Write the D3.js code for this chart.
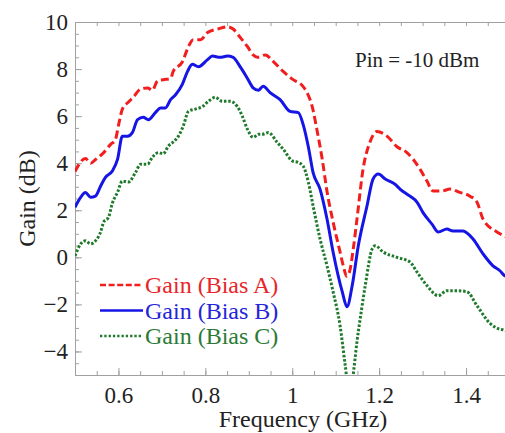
<!DOCTYPE html>
<html>
<head>
<meta charset="utf-8">
<script src="https://cdn.jsdelivr.net/npm/d3@7"></script>
<style>
  body { margin: 0; background: #fff; }
  svg { display: block; }
  .axis path, .axis line { stroke: #a0a0a0; }
  .axis text { font-family: "Liberation Serif", "Times New Roman", serif; font-size: 23px; fill: #222; }
</style>
</head>
<body>
<div id="chart"></div>
<script>
// gain curves (frequency in GHz, gain in dB)
var freqA = [0.50, 0.524, 0.536, 0.547, 0.566, 0.582, 0.593, 0.600, 0.609, 0.623, 0.634, 0.651, 0.667, 0.678, 0.690, 0.703, 0.720, 0.726, 0.747, 0.761, 0.772, 0.789, 0.805, 0.828, 0.851, 0.864, 0.880, 0.897, 0.910, 0.920, 0.938, 0.956, 0.979, 1.002, 1.023, 1.034, 1.046, 1.057, 1.069, 1.080, 1.094, 1.110, 1.118, 1.125, 1.132, 1.140, 1.149, 1.163, 1.179, 1.195, 1.218, 1.241, 1.264, 1.278, 1.294, 1.310, 1.324, 1.345, 1.363, 1.384, 1.409, 1.425, 1.439, 1.471, 1.489, 1.50];
var gainA = [3.65, 4.2, 4.0, 4.15, 4.45, 4.8, 5.0, 5.6, 6.3, 6.6, 6.8, 7.15, 7.2, 7.1, 7.5, 7.55, 7.6, 7.9, 8.3, 8.95, 9.25, 9.25, 9.55, 9.7, 9.8, 9.7, 9.35, 8.95, 8.6, 8.5, 8.6, 8.33, 7.9, 7.55, 7.3, 7.0, 6.4, 5.4, 4.17, 2.8, 1.5, 0.23, -0.4, -0.8, -0.6, 0.3, 1.63, 3.75, 4.9, 5.35, 5.15, 4.7, 4.45, 4.17, 3.75, 3.24, 2.82, 2.82, 2.9, 2.77, 2.6, 2.35, 1.63, 1.08, 0.9, 0.8];

var freqB = [0.50, 0.513, 0.524, 0.536, 0.547, 0.559, 0.570, 0.586, 0.598, 0.609, 0.621, 0.632, 0.644, 0.657, 0.669, 0.685, 0.697, 0.708, 0.720, 0.731, 0.747, 0.759, 0.770, 0.784, 0.805, 0.816, 0.834, 0.851, 0.864, 0.880, 0.897, 0.910, 0.922, 0.933, 0.949, 0.972, 0.995, 1.014, 1.025, 1.037, 1.048, 1.064, 1.080, 1.094, 1.115, 1.126, 1.138, 1.152, 1.172, 1.186, 1.198, 1.214, 1.237, 1.248, 1.271, 1.287, 1.301, 1.322, 1.336, 1.356, 1.370, 1.393, 1.416, 1.439, 1.462, 1.478, 1.489, 1.50];
var gainB = [2.13, 2.55, 2.75, 2.55, 2.6, 3.03, 3.4, 3.67, 4.17, 5.15, 5.15, 5.3, 5.85, 5.95, 5.85, 6.15, 6.35, 6.35, 6.7, 6.9, 7.35, 7.9, 8.2, 8.1, 8.4, 8.55, 8.5, 8.55, 8.5, 8.1, 7.6, 7.2, 7.1, 7.27, 7.0, 6.7, 6.2, 6.15, 5.65, 4.7, 3.6, 2.9, 1.63, 0.23, -1.46, -2.1, -1.2, 0.49, 2.18, 3.33, 3.54, 3.33, 3.1, 2.9, 2.6, 2.35, 1.9, 1.4, 1.08, 1.2, 1.12, 1.12, 0.78, 0.15, -0.36, -0.57, -0.78, -0.85];

var freqC = [0.50, 0.513, 0.524, 0.536, 0.547, 0.559, 0.566, 0.577, 0.586, 0.598, 0.609, 0.623, 0.639, 0.651, 0.667, 0.678, 0.692, 0.703, 0.715, 0.726, 0.738, 0.749, 0.761, 0.777, 0.793, 0.807, 0.823, 0.839, 0.857, 0.874, 0.885, 0.897, 0.910, 0.922, 0.931, 0.945, 0.966, 0.979, 1.000, 1.014, 1.025, 1.037, 1.048, 1.064, 1.080, 1.094, 1.110, 1.122, 1.131, 1.152, 1.168, 1.184, 1.191, 1.209, 1.241, 1.271, 1.287, 1.310, 1.336, 1.356, 1.379, 1.402, 1.425, 1.455, 1.474, 1.489, 1.50];
var gainC = [0.06, 0.57, 0.7, 0.57, 0.7, 1.08, 1.5, 1.7, 2.3, 2.77, 3.24, 3.2, 3.6, 3.96, 3.96, 4.25, 4.45, 4.4, 4.73, 4.9, 5.15, 5.57, 6.2, 6.3, 6.4, 6.63, 6.8, 6.63, 6.63, 6.4, 6.0, 5.44, 5.1, 5.23, 5.23, 5.3, 4.87, 4.6, 4.1, 4.03, 3.88, 3.2, 2.18, 0.78, -0.36, -1.46, -2.9, -4.6, -5.8, -3.16, -1.2, 0.36, 0.49, 0.23, 0.0, -0.2, -0.62, -1.2, -1.63, -1.42, -1.42, -1.46, -2.05, -2.8, -3.03, -3.1, -3.2];

var seriesNames = ["Gain (Bias A)", "Gain (Bias B)", "Gain (Bias C)"];
var xTicks = [0.6, 0.8, 1, 1.2, 1.4];
var yTicks = [-4, -2, 0, 2, 4, 6, 8, 10];

var totalWidth = 505, totalHeight = 433;
var margin = {top: 22, left: 75, bottom: 58, right: -4.5};
var width = totalWidth - margin.left - margin.right;
var height = totalHeight - margin.top - margin.bottom;

var svg = d3.select("#chart").append("svg")
    .attr("width", totalWidth)
    .attr("height", totalHeight);

var xScale = d3.scaleLinear().domain([0.5, 1.5]).range([margin.left, margin.left + width]);
var yScale = d3.scaleLinear().domain([-5, 10]).range([margin.top + height, margin.top]);

// minor ticks first, majors on top
var xMinor = d3.range(0.5, 1.5001, 0.05);
var yMinor = d3.range(-5, 10.001, 0.5);

svg.append("g").attr("class", "axis")
    .attr("transform", "translate(0," + (margin.top + height) + ")")
    .call(d3.axisBottom(xScale).tickValues(xMinor).tickSize(-4).tickFormat(""));
svg.append("g").attr("class", "axis")
    .attr("transform", "translate(0," + margin.top + ")")
    .call(d3.axisTop(xScale).tickValues(xMinor).tickSize(-4).tickFormat(""));
svg.append("g").attr("class", "axis")
    .attr("transform", "translate(" + margin.left + ",0)")
    .call(d3.axisLeft(yScale).tickValues(yMinor).tickSize(-4).tickFormat(""));
svg.append("g").attr("class", "axis")
    .attr("transform", "translate(" + (margin.left + width) + ",0)")
    .call(d3.axisRight(yScale).tickValues(yMinor).tickSize(-4).tickFormat(""));

// major ticks with labels
svg.append("g").attr("class", "axis")
    .attr("transform", "translate(0," + (margin.top + height) + ")")
    .call(d3.axisBottom(xScale).tickValues(xTicks).tickSize(-7).tickSizeOuter(0).tickPadding(12).tickFormat(d3.format("")));
svg.append("g").attr("class", "axis")
    .attr("transform", "translate(" + margin.left + ",0)")
    .call(d3.axisLeft(yScale).tickValues(yTicks).tickSize(-7).tickSizeOuter(0).tickPadding(7).tickFormat(d3.format("")));

// clip the curves to the plot box
svg.append("clipPath").attr("id", "plotClip")
  .append("rect")
    .attr("x", margin.left).attr("y", margin.top)
    .attr("width", width).attr("height", height);

var line = d3.line()
    .x(function(d) { return xScale(d[0]); })
    .y(function(d) { return yScale(d[1]); })
    .curve(d3.curveMonotoneX);

var styles = [
  {color: "#f21d1d", dash: "8,4", legendDash: "6,2.6", text: "#e8262b"},
  {color: "#1515e6", dash: null, legendDash: null, text: "#2424d8"},
  {color: "#1f7a2c", dash: "2.5,1.8", legendDash: "2.3,2", text: "#2b7a36"}
];
var allData = [d3.zip(freqA, gainA), d3.zip(freqB, gainB), d3.zip(freqC, gainC)];

var curves = svg.append("g").attr("clip-path", "url(#plotClip)");
allData.forEach(function(data, i) {
  curves.append("path")
      .datum(data)
      .attr("fill", "none")
      .attr("stroke", styles[i].color)
      .attr("stroke-width", 3)
      .attr("stroke-dasharray", styles[i].dash)
      .attr("d", line);
});

// legend
var legend = svg.selectAll(".legend")
    .data(seriesNames)
    .enter()
    .append("g")
    .attr("class", "legend")
    .attr("transform", function(d, i) { return "translate(100," + (285 + i * 25.5) + ")"; });

legend.append("line")
    .attr("x1", 0).attr("x2", 43)
    .attr("stroke", function(d, i) { return styles[i].color; })
    .attr("stroke-width", 2.4)
    .attr("stroke-dasharray", function(d, i) { return styles[i].legendDash; });

legend.append("text")
    .attr("x", 45)
    .attr("y", 8)
    .style("font-family", "'Liberation Serif', 'Times New Roman', serif")
    .style("font-size", "24px")
    .attr("fill", function(d, i) { return styles[i].text; })
    .text(function(d) { return d; });

// annotation
svg.append("text")
    .attr("x", 355).attr("y", 67)
    .style("font-family", "'Liberation Serif', 'Times New Roman', serif")
    .style("font-size", "21px")
    .attr("fill", "#222")
    .text("Pin = -10 dBm");

// axis titles
svg.append("text")
    .attr("text-anchor", "middle")
    .attr("x", 303).attr("y", 427)
    .style("font-family", "'Liberation Serif', 'Times New Roman', serif")
    .style("font-size", "24px")
    .attr("fill", "#222")
    .text("Frequency (GHz)");

svg.append("text")
    .attr("text-anchor", "middle")
    .attr("transform", "translate(35," + (margin.top + height / 2) + ") rotate(-90)")
    .style("font-family", "'Liberation Serif', 'Times New Roman', serif")
    .style("font-size", "24px")
    .attr("fill", "#222")
    .text("Gain (dB)");
</script>
</body>
</html>
